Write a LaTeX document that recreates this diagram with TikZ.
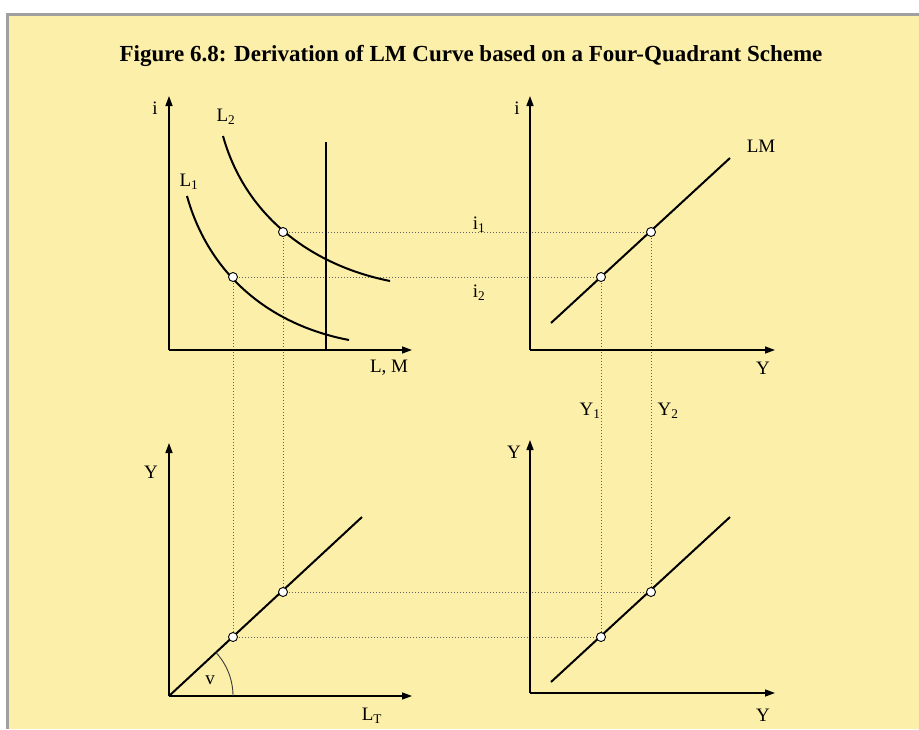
\documentclass[tikz,border=0pt]{standalone}
\usepackage{fontspec}
\setmainfont{Liberation Serif}
\usetikzlibrary{arrows.meta}
\definecolor{bgyellow}{HTML}{FCEFA9}
\definecolor{framegray}{HTML}{A0A0A0}
\definecolor{guidegray}{HTML}{606060}
\tikzset{
  axis/.style={line width=1.4pt,arrows={-Triangle[length=10pt,width=7pt]}},
  curve/.style={line width=2pt},
  guide/.style={guidegray,line width=1pt,dotted},
  dot/.style={circle,draw=black,fill=white,line width=0.9pt,inner sep=0pt,minimum size=9pt},
  lbl/.style={font=\fontsize{19}{22}\selectfont,inner sep=0pt},
}
\begin{document}
\begin{tikzpicture}[x=1pt,y=-1pt]
\useasboundingbox (0,0) rectangle (919,729);
\fill[bgyellow] (9,16) rectangle (919,729);
\draw[framegray,line width=3pt] (7.5,729) -- (7.5,14.5) -- (919,14.5);
\node[font=\bfseries\fontsize{23}{27}\selectfont,inner sep=0pt] (title) at (471,56) {Figure 6.8: Derivation of LM Curve based on a Four-Quadrant Scheme};

% quadrant origins and axis ends
\coordinate (o1) at (169,350); \coordinate (y1) at (169,96); \coordinate (x1) at (412,350);
\coordinate (o2) at (530,350); \coordinate (y2) at (530,96); \coordinate (x2) at (775,350);
\coordinate (o3) at (169,696); \coordinate (y3) at (169,443); \coordinate (x3) at (412,696);
\coordinate (o4) at (530,693); \coordinate (y4) at (530,440); \coordinate (x4) at (775,693);

% points
\coordinate (A) at (283,232); \coordinate (B) at (233,277);
\coordinate (C) at (651,232); \coordinate (D) at (601,277);
\coordinate (E) at (283,592); \coordinate (F) at (233,637);
\coordinate (G) at (651,592); \coordinate (H) at (601,637);

% guides
\draw[guide] (A) -- (C);
\draw[guide] (B) -- (D);
\draw[guide] (A) -- (E);
\draw[guide] (B) -- (F);
\draw[guide] (C) -- (G);
\draw[guide] (D) -- (H);
\draw[guide] (E) -- (G);
\draw[guide] (F) -- (H);

% axes
\draw[axis] (o1) -- (y1);
\draw[axis] (o1) -- (x1);
\draw[axis] (o2) -- (y2);
\draw[axis] (o2) -- (x2);
\draw[axis] (o3) -- (y3);
\draw[axis] (o3) -- (x3);
\draw[axis] (o4) -- (y4);
\draw[axis] (o4) -- (x4);

% quadrant 1 curves
\coordinate (ms1) at (326,142); \coordinate (ms2) at (326,350);
\draw[curve] (ms1) -- (ms2);
\coordinate (l2s) at (223,136); \coordinate (l2e) at (390,281);
\draw[curve] (l2s) .. controls (245,215) and (310,265) .. (l2e);
\coordinate (l1s) at (187,196); \coordinate (l1e) at (349,340);
\draw[curve] (l1s) .. controls (209,275) and (270,325) .. (l1e);

% LM line
\coordinate (lms) at (551,323); \coordinate (lme) at (730,158);
\draw[curve] (lms) -- (lme);
% lower lines
\coordinate (vle) at (362,517);
\draw[curve] (o3) -- (vle);
\coordinate (rs) at (551,682); \coordinate (re) at (730,517);
\draw[curve] (rs) -- (re);
% angle arc
\draw[guidegray!60!black,line width=0.9pt] (233,696) arc[start angle=0,end angle=-43,radius=64];

% dots
\foreach \p in {A,B,C,D,E,F,G,H} \node[dot] at (\p) {};

% labels
\node[lbl] (li1) at (155,108) {i};
\node[lbl] (li2) at (517,108) {i};
\node[lbl] (lL2) at (226,117) {L\textsubscript{2}};
\node[lbl] (lL1) at (189,182) {L\textsubscript{1}};
\node[lbl] (lLM) at (389,368) {L, M};
\node[lbl] (lLMc) at (761,146) {LM};
\node[lbl] (lY2a) at (763,368) {Y};
\node[lbl] (li1v) at (479,225) {i\textsubscript{1}};
\node[lbl] (li2v) at (479,293) {i\textsubscript{2}};
\node[lbl] (lY1v) at (590,411) {Y\textsubscript{1}};
\node[lbl] (lY2v) at (668,411) {Y\textsubscript{2}};
\node[lbl] (lY3) at (151,472) {Y};
\node[lbl] (lY4) at (514,452) {Y};
\node[lbl] (lv) at (210,680) {v};
\node[lbl] (lLT) at (372,716) {L\textsubscript{T}};
\node[lbl] (lY4x) at (763,715) {Y};
\end{tikzpicture}
\end{document}
